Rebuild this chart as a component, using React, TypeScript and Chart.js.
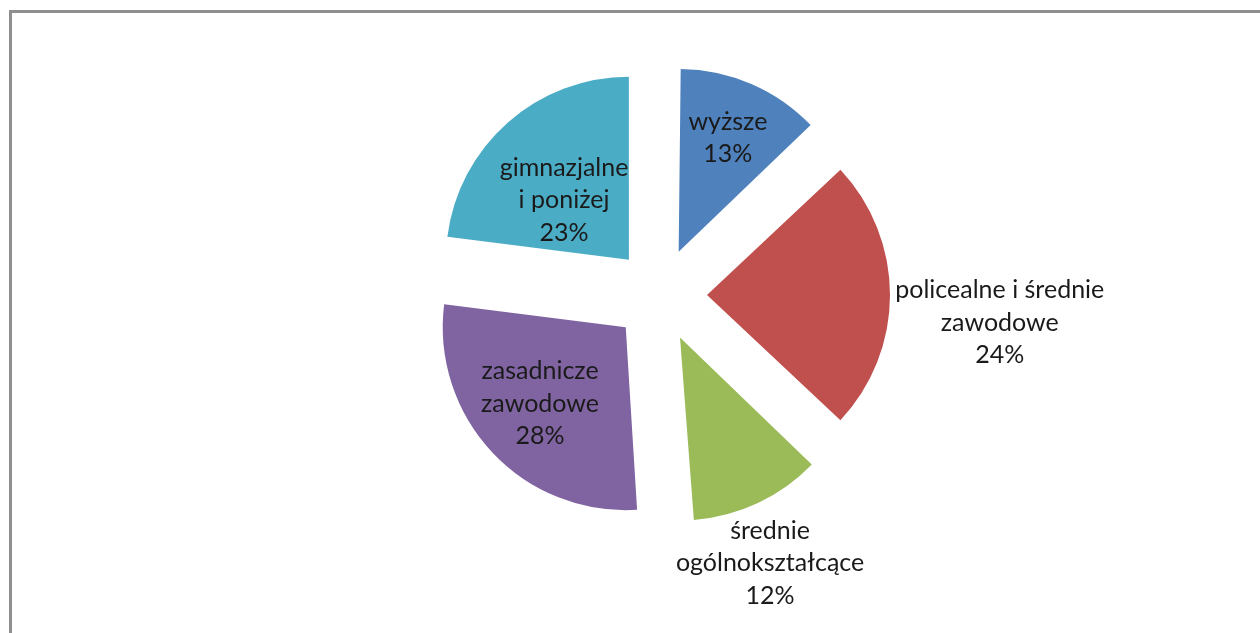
import React, { useEffect, useRef } from "react";
import { Chart, registerables } from "chart.js";

Chart.register(...registerables);

const categories = [
  "wyższe",
  "policealne i średnie zawodowe",
  "średnie ogólnokształcące",
  "zasadnicze zawodowe",
  "gimnazjalne i poniżej",
];
const labelLines = [
  ["wyższe"],
  ["policealne i średnie", "zawodowe"],
  ["średnie", "ogólnokształcące"],
  ["zasadnicze", "zawodowe"],
  ["gimnazjalne", "i poniżej"],
];
const values = [13, 24, 12, 28, 23];
const colors = ["#4F81BD", "#C0504D", "#9BBB59", "#8064A2", "#4BACC6"];

// label placement: radial distance (fraction of radius) and angle tweak (deg)
const labelDist = [0.934, 1.863, 1.585, 0.885, 0.738];
const labelTurn = [0, 4.7, 2.9, 1, -3.9];

const RADIUS = 183;
const OFFSET = 188; // Chart.js draws offset/4

const FONT = "25px Lato";
const LINE_H = 32.5;

const equalRadiusPlugin = {
  id: "equalRadius",
  beforeDatasetsDraw(chart: any) {
    const meta = chart.getDatasetMeta(0);
    meta.data.forEach((arc: any) => {
      const circ = arc.endAngle - arc.startAngle;
      const fix = 1 - Math.sin(Math.min(Math.PI, circ));
      arc.outerRadius = RADIUS - (OFFSET / 4) * fix;
    });
  },
};

const labelPlugin = {
  id: "sliceLabels",
  afterDatasetsDraw(chart: any) {
    const ctx = chart.ctx;
    const meta = chart.getDatasetMeta(0);
    const total = values.reduce((a, b) => a + b, 0);
    ctx.save();
    ctx.font = FONT;
    ctx.fillStyle = "#1a1a1a";
    ctx.textAlign = "center";
    ctx.textBaseline = "middle";
    meta.data.forEach((arc: any, i: number) => {
      const mid = (arc.startAngle + arc.endAngle) / 2 + (labelTurn[i] * Math.PI) / 180;
      const r = RADIUS * labelDist[i];
      const cx = arc.x + Math.cos(mid) * r;
      const cy = arc.y + Math.sin(mid) * r;
      const lines = [...labelLines[i], Math.round((values[i] / total) * 100) + "%"];
      const start = cy - ((lines.length - 1) * LINE_H) / 2;
      lines.forEach((t, j) => ctx.fillText(t, cx, start + j * LINE_H));
    });
    ctx.restore();
  },
};

export default function App() {
  const ref = useRef<HTMLCanvasElement | null>(null);
  useEffect(() => {
    if (!ref.current) return;
    const chart = new Chart(ref.current, {
      type: "pie",
      data: {
        labels: categories,
        datasets: [
          {
            data: values,
            backgroundColor: colors,
            borderWidth: 0,
            offset: OFFSET,
            hoverOffset: 0,
          },
        ],
      },
      options: {
        animation: false,
        responsive: false,
        radius: RADIUS,
        layout: { padding: { left: 60, right: 0, top: 0, bottom: 43 } },
        plugins: {
          legend: { display: false },
          tooltip: { enabled: false },
          title: { display: false },
        },
        events: [],
      },
      plugins: [equalRadiusPlugin, labelPlugin],
    });
    return () => chart.destroy();
  }, []);
  return (
    <div style={{ position: "absolute", left: 0, top: 0, width: 1260, height: 633, overflow: "hidden", background: "#fff" }}>
      <div
        style={{
          position: "absolute",
          left: 9,
          top: 10,
          width: 1260,
          height: 640,
          borderLeft: "3px solid #8f8f8f",
          borderTop: "3px solid #8f8f8f",
        }}
      />
      <canvas ref={ref} width={1260} height={633} style={{ position: "absolute", left: 0, top: 0 }} />
    </div>
  );
}
